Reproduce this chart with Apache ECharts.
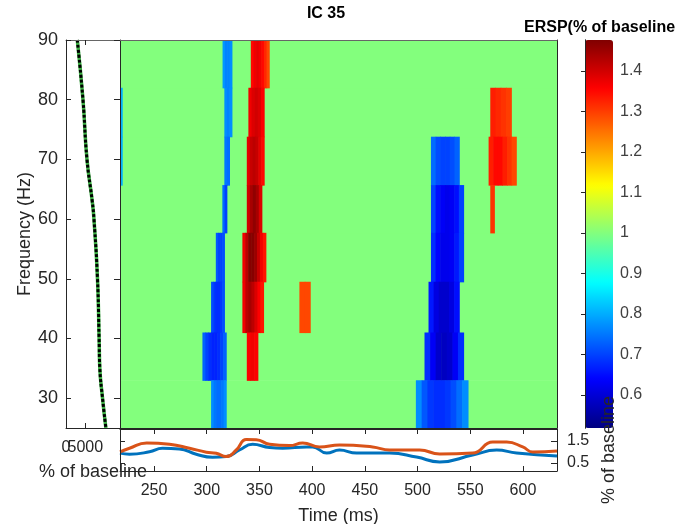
<!DOCTYPE html>
<html><head><meta charset="utf-8">
<script src="https://cdn.jsdelivr.net/npm/echarts@6/dist/echarts.min.js"></script>
<style>html,body{margin:0;padding:0;background:#fff}#c{width:695px;height:524px}</style>
</head><body><div id="c"></div><script>
// ---- data ----
const timeMin = 217.7, timeMax = 632.3;
const freqMin = 25, freqMax = 90;
const freqEdges = [25, 33, 41, 49.5, 57.7, 65.7, 73.8, 82, 90];
const timeTicks = [250, 300, 350, 400, 450, 500, 550, 600];
const freqTicks = [30, 40, 50, 60, 70, 80, 90];
const erspMin = 0.5185, erspMax = 1.4765;
const cbarTicks = [0.6, 0.7, 0.8, 0.9, 1, 1.1, 1.2, 1.3, 1.4];
const baselineValue = 1;

// significant (unmasked) runs: band index (0 = lowest), start ms, end ms, values across the run
const tfBand  = [7, 6, 5, 4, 3, 2, 1, 0,
                 7, 6, 5, 4, 3, 2, 1,
                 2, 6, 5,
                 5, 4, 3, 2, 1, 0,
                 6, 5, 4];
const tfStart = [315, 316.7, 316.7, 314.8, 308.6, 304.1, 295.9, 304.1,
                 341.8, 339.5, 338, 338, 333.8, 333.8, 338,
                 387.9, 217.7, 217.7,
                 512.7, 512.7, 512.7, 510.4, 506.6, 498.4,
                 569, 567.4, 569];
const tfEnd   = [323.8, 323.8, 321.5, 319, 316.7, 316.7, 318.4, 318.4,
                 359.2, 354.4, 354.4, 352.2, 356, 353.8, 348.4,
                 398.1, 219.7, 219.7,
                 539.5, 543.6, 543.6, 539.5, 543.6, 547.8,
                 588.9, 593.6, 572.8];
const tfValues = [
  [0.78, 0.76, 0.76, 0.77],
  [0.77, 0.76, 0.77],
  [0.75, 0.74],
  [0.74, 0.70],
  [0.72, 0.70, 0.70, 0.71],
  [0.71, 0.69, 0.68, 0.68, 0.69, 0.71],
  [0.73, 0.70, 0.68, 0.67, 0.67, 0.68, 0.70, 0.73],
  [0.77, 0.75, 0.74, 0.74, 0.75, 0.77],
  [1.35, 1.37, 1.38, 1.37, 1.35, 1.32, 1.29],
  [1.37, 1.39, 1.40, 1.39, 1.36],
  [1.38, 1.41, 1.42, 1.41, 1.38, 1.35],
  [1.40, 1.44, 1.46, 1.44, 1.39],
  [1.37, 1.42, 1.47, 1.47, 1.45, 1.41, 1.37, 1.34],
  [1.37, 1.42, 1.44, 1.42, 1.39, 1.36, 1.34],
  [1.36, 1.37, 1.36],
  [1.29, 1.29],
  [0.80],
  [0.80],
  [0.74, 0.71, 0.70, 0.70, 0.71, 0.73],
  [0.70, 0.65, 0.63, 0.62, 0.63, 0.65, 0.70],
  [0.68, 0.64, 0.62, 0.62, 0.63, 0.66, 0.70],
  [0.66, 0.61, 0.59, 0.59, 0.61, 0.65],
  [0.68, 0.63, 0.59, 0.58, 0.59, 0.63, 0.68],
  [0.77, 0.72, 0.69, 0.68, 0.68, 0.69, 0.71, 0.74, 0.77],
  [1.33, 1.32, 1.31, 1.30],
  [1.33, 1.35, 1.35, 1.33, 1.31, 1.29],
  [1.31]
];

// left panel: baseline power spectrum
const specFreq  = [90, 80, 70, 63, 60, 50, 40, 35, 30, 25];
const specPower = [2930, 4400, 5440, 6800, 7250, 8165, 8585, 8770, 9470, 10340];
const powTicks = [0, 5000];
const powMax = 14000;

// bottom panel: envelopes
const envTimeOrange = [217.7, 226.7, 243, 264.7, 283.7, 299.6, 309, 318.5, 328, 337.5, 347, 359.6, 378.6, 391, 407, 426, 457.4, 473.5, 502, 521, 552.3, 571.3, 584.6, 599.8, 609.3, 632.3];
const envOrange     = [1.01, 1.17, 1.41, 1.35, 1.17, 0.99, 0.94, 0.79, 1.09, 1.57, 1.56, 1.35, 1.29, 1.41, 1.23, 1.32, 1.23, 1.09, 1.09, 0.91, 0.95, 1.45, 1.45, 1.23, 1.00, 1.05];
const envTimeBlue = [217.7, 226.7, 245.7, 258, 274, 290, 305.5, 318.5, 331, 343.5, 359.6, 372, 394.8, 400.5, 413.8, 426, 442.2, 473.5, 499, 521, 552.3, 575, 594, 632.3];
const envBlue     = [0.95, 0.90, 1.01, 1.17, 1.14, 0.90, 0.76, 0.79, 1.09, 1.35, 1.20, 1.17, 1.23, 1.23, 0.95, 1.09, 0.95, 0.95, 0.77, 0.55, 0.86, 1.09, 0.95, 0.82];
const envMin = 0.136, envMax = 2.045;
const envTicks = [0.5, 1.5];

// ---- build ----
const jet = ['#000080', '#0000FF', '#0080FF', '#00FFFF', '#80FF80', '#FFFF00', '#FF8000', '#FF0000', '#800000'];
const cells = [];
for (let i = 0; i < freqEdges.length - 1; i++) {
  cells.push([timeMin, timeMax, freqEdges[i], freqEdges[i + 1], baselineValue]);
}
for (let k = 0; k < tfBand.length; k++) {
  const v = tfValues[k], n = v.length, w = (tfEnd[k] - tfStart[k]) / n, b = tfBand[k];
  for (let j = 0; j < n; j++) {
    cells.push([tfStart[k] + j * w, tfStart[k] + (j + 1) * w, freqEdges[b], freqEdges[b + 1], v[j]]);
  }
}
const pair = (a, b) => a.map((x, i) => [x, b[i]]);
const plain = (v) => String(v);

const FONT = '"Liberation Sans", Arial, sans-serif';
const TXT = '#262626';
const LINE = '#262626';
const lbl = (extra) => Object.assign({ color: TXT, fontSize: 16, fontFamily: FONT, formatter: plain }, extra || {});
const nm = (extra) => Object.assign({ color: TXT, fontSize: 18, fontFamily: FONT }, extra || {});
const noAxis = { show: true, axisLine: { show: false }, axisTick: { show: false }, axisLabel: { show: false }, splitLine: { show: false } };

const chart = echarts.init(document.getElementById('c'), null, { renderer: 'canvas' });
chart.setOption({
  animation: false,
  backgroundColor: '#ffffff',
  textStyle: { fontFamily: FONT },
  grid: [
    { left: 120, top: 40, width: 437, height: 388, outerBoundsMode: 'none' },
    { left: 66, top: 40, width: 54, height: 388, outerBoundsMode: 'none' },
    { left: 120, top: 429, width: 437, height: 42, outerBoundsMode: 'none' },
    { left: 585, top: 40, width: 28, height: 388, outerBoundsMode: 'none' }
  ],
  xAxis: [
    Object.assign({}, noAxis, { gridIndex: 0, type: 'value', min: timeMin, max: timeMax, position: 'bottom', z: 5,
      axisLine: { show: true, lineStyle: { color: LINE, width: 1 } } }),
    Object.assign({}, noAxis, { gridIndex: 0, type: 'value', min: timeMin, max: timeMax, position: 'top', z: 5,
      axisLine: { show: true, lineStyle: { color: '#666', width: 1 } } }),
    { gridIndex: 1, type: 'value', min: 0, max: powMax, position: 'bottom', z: 5,
      axisLine: { show: true, lineStyle: { color: LINE } },
      axisTick: { show: true, inside: true, length: 5, customValues: powTicks, lineStyle: { color: LINE } },
      axisLabel: lbl({ customValues: [powTicks[0]], margin: 12 }),
      splitLine: { show: false },
      name: '% of baseline', nameLocation: 'middle', nameGap: 35, nameTextStyle: nm() },
    { gridIndex: 1, type: 'value', min: 0, max: powMax, position: 'top', z: 5,
      axisLine: { show: true, lineStyle: { color: '#666' } },
      axisTick: { show: true, inside: true, length: 5, customValues: powTicks, lineStyle: { color: LINE } },
      axisLabel: { show: false }, splitLine: { show: false } },
    { gridIndex: 2, type: 'value', min: timeMin, max: timeMax, position: 'bottom', z: 5,
      axisLine: { show: true, lineStyle: { color: LINE } },
      axisTick: { show: true, inside: true, length: 5, customValues: timeTicks, lineStyle: { color: LINE } },
      axisLabel: lbl({ customValues: timeTicks, margin: 12 }),
      splitLine: { show: false },
      name: 'Time (ms)', nameLocation: 'middle', nameGap: 36, nameTextStyle: nm() },
    { gridIndex: 2, type: 'value', min: timeMin, max: timeMax, position: 'top', z: 5,
      axisLine: { show: true, lineStyle: { color: LINE } },
      axisTick: { show: true, inside: true, length: 5, customValues: timeTicks, lineStyle: { color: LINE } },
      axisLabel: { show: false }, splitLine: { show: false } },
    Object.assign({}, noAxis, { gridIndex: 3, type: 'value', min: 0, max: 1, show: false }),
    // second label row for the left panel (its two labels overlap in the reference)
    { gridIndex: 1, type: 'value', min: 0, max: powMax, position: 'bottom', offset: 0, z: 6,
      axisLine: { show: false }, axisTick: { show: false },
      axisLabel: lbl({ customValues: [powTicks[1]], margin: 12 }),
      splitLine: { show: false } }
  ],
  yAxis: [
    { gridIndex: 0, type: 'value', min: freqMin, max: freqMax, position: 'left', z: 5,
      axisLine: { show: true, lineStyle: { color: LINE } },
      axisTick: { show: true, inside: false, length: 6, customValues: freqTicks, lineStyle: { color: LINE } },
      axisLabel: { show: false }, splitLine: { show: false } },
    Object.assign({}, noAxis, { gridIndex: 0, type: 'value', min: freqMin, max: freqMax, position: 'right', z: 5,
      axisLine: { show: true, lineStyle: { color: LINE } } }),
    { gridIndex: 1, type: 'value', min: freqMin, max: freqMax, position: 'left', z: 5,
      axisLine: { show: true, lineStyle: { color: LINE } },
      axisTick: { show: true, inside: true, length: 5, customValues: freqTicks, lineStyle: { color: LINE } },
      axisLabel: lbl({ customValues: freqTicks, margin: 8, fontSize: 18 }),
      splitLine: { show: false },
      name: 'Frequency (Hz)', nameLocation: 'middle', nameGap: 31, nameTextStyle: nm() },
    { gridIndex: 2, type: 'value', min: envMin, max: envMax, position: 'right', z: 10,
      axisLine: { show: true, lineStyle: { color: LINE } },
      axisTick: { show: true, inside: true, length: 6, customValues: envTicks, lineStyle: { color: LINE } },
      axisLabel: lbl({ customValues: envTicks, margin: 10 }),
      splitLine: { show: false },
      name: '% of baseline', nameLocation: 'middle', nameGap: 41, nameRotate: 90, nameTextStyle: nm() },
    { gridIndex: 2, type: 'value', min: envMin, max: envMax, position: 'left', z: 5,
      axisLine: { show: true, lineStyle: { color: LINE } },
      axisTick: { show: true, inside: true, length: 5, customValues: envTicks, lineStyle: { color: LINE } },
      axisLabel: { show: false }, splitLine: { show: false } },
    { gridIndex: 3, type: 'value', min: erspMin, max: erspMax, position: 'right', z: 10,
      axisLine: { show: true, lineStyle: { color: LINE } },
      axisTick: { show: true, inside: true, length: 4, customValues: cbarTicks, lineStyle: { color: LINE } },
      axisLabel: lbl({ customValues: cbarTicks, margin: 7, fontSize: 16, color: '#404040' }),
      splitLine: { show: false } },
    Object.assign({}, noAxis, { gridIndex: 3, type: 'value', min: erspMin, max: erspMax, position: 'left', z: 10,
      axisLine: { show: true, lineStyle: { color: LINE } } })
  ],
  visualMap: [{
    type: 'continuous', min: erspMin, max: erspMax, dimension: 4, seriesIndex: 0,
    inRange: { color: jet }, calculable: false, text: null, showLabel: false,
    left: 585, top: 40, itemWidth: 28, itemHeight: 388, padding: 0, orient: 'vertical', z: 4
  }],
  graphic: [
    { type: 'text', x: 326, y: 14, z: 100,
      style: { text: 'IC 35', font: 'bold 16px ' + FONT, fill: '#000', textAlign: 'center', textVerticalAlign: 'middle', align: 'center', verticalAlign: 'middle' } },
    { type: 'text', x: 524, y: 28, z: 100,
      style: { text: 'ERSP(% of baseline', font: 'bold 16px ' + FONT, fill: '#000', textAlign: 'left', textVerticalAlign: 'middle', align: 'left', verticalAlign: 'middle' } }
  ],
  series: [
    { type: 'custom', xAxisIndex: 0, yAxisIndex: 0, clip: true, data: cells,
      encode: { x: [0, 1], y: [2, 3] },
      renderItem: function (params, api) {
        const p0 = api.coord([api.value(0), api.value(3)]);
        const p1 = api.coord([api.value(1), api.value(2)]);
        return { type: 'rect',
          shape: { x: p0[0], y: p0[1], width: p1[0] - p0[0] + 0.6, height: p1[1] - p0[1] + 0.6 },
          style: { fill: api.visual('color') } };
      } },
    { type: 'line', xAxisIndex: 2, yAxisIndex: 2, data: pair(specPower, specFreq), smooth: true,
      showSymbol: false, lineStyle: { color: '#3cb043', width: 3.5 }, z: 3 },
    { type: 'line', xAxisIndex: 2, yAxisIndex: 2, data: pair(specPower, specFreq), smooth: true,
      showSymbol: false, lineStyle: { color: '#000', width: 3, type: [3, 2] }, z: 4 },
    { type: 'line', xAxisIndex: 4, yAxisIndex: 3, data: pair(envTimeBlue, envBlue), smooth: true,
      showSymbol: false, lineStyle: { color: '#0072BD', width: 3 }, z: 3 },
    { type: 'line', xAxisIndex: 4, yAxisIndex: 3, data: pair(envTimeOrange, envOrange), smooth: true,
      showSymbol: false, lineStyle: { color: '#D95319', width: 3 }, z: 4 }
  ]
});
</script></body></html>
